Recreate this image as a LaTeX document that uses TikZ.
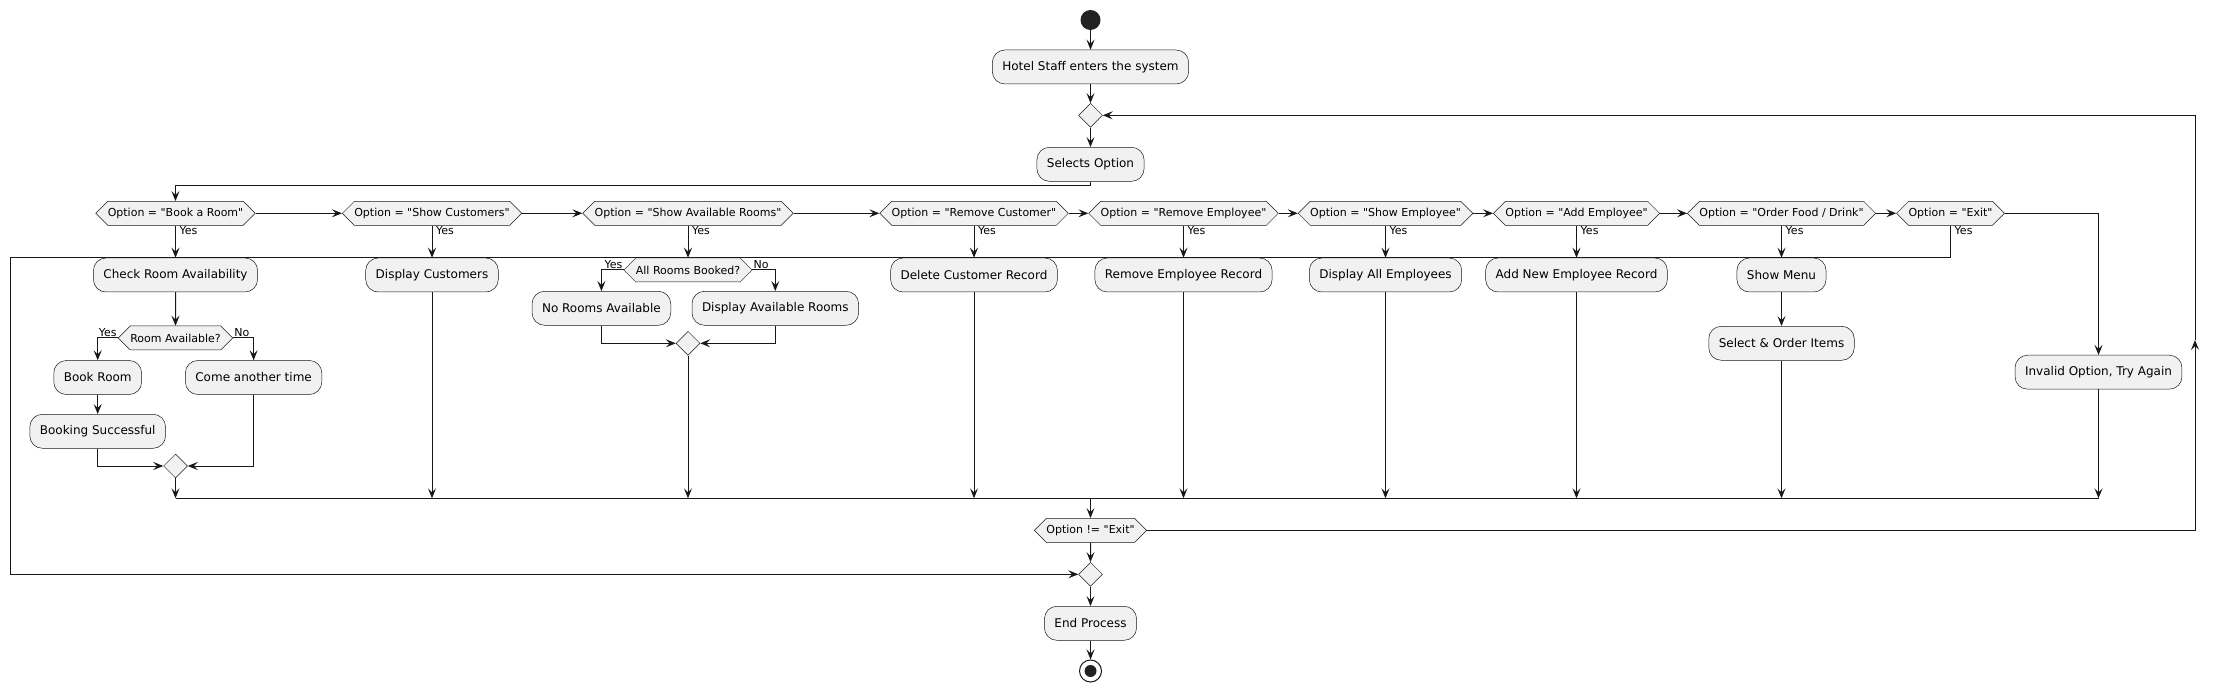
\documentclass[tikz,border=0pt]{standalone}
\usepackage{fontspec}
\setmainfont{DejaVu Sans}[Ligatures=TeXOff]
\usetikzlibrary{arrows.meta, shapes.geometric, shapes.symbols}

\definecolor{boxfill}{HTML}{F1F1F1}
\definecolor{lineclr}{HTML}{181818}
\definecolor{startclr}{HTML}{222222}

\begin{document}
\begin{tikzpicture}[x=1pt, y=-1pt,
		action/.style={draw=lineclr, fill=boxfill, line width=0.5pt, rounded corners=12.5pt, minimum height=34pt, inner xsep=10pt, inner ysep=0pt, font=\fontsize{12}{14}\selectfont},
		cond/.style={draw=lineclr, fill=boxfill, line width=0.5pt, signal, signal to=east and west, signal pointer angle=90, minimum height=24pt, inner xsep=0pt, inner ysep=0pt, font=\fontsize{11}{13}\selectfont},
		merge/.style={draw=lineclr, fill=boxfill, line width=0.5pt, diamond, minimum size=24pt, inner sep=0pt},
		flow/.style={draw=lineclr, line width=1pt, -{Stealth[length=10pt, width=8pt, inset=4pt]}},
		line/.style={draw=lineclr, line width=1pt},
		lbl/.style={font=\fontsize{11}{13}\selectfont, inner sep=1pt}]
		\path[use as bounding box, fill=white] (0,0) rectangle (2220,692);
		\node[circle, fill=startclr, minimum size=20pt, inner sep=0pt] (start) at (1090.5,20) {};
		\node[action] (hotel) at (1090.5,67) {Hotel Staff enters the system};
		\node[merge] (loopm) at (1090.5,115.3) {};
		\node[action] (select) at (1090.5,164.3) {Selects Option};
		\node[cond] (optbook) at (175.5,213.3) {Option = "Book a Room"};
		\node[cond] (optcust) at (432,213.3) {Option = "Show Customers"};
		\node[cond] (optavail) at (688,213.3) {Option = "Show Available Rooms"};
		\node[cond] (optremc) at (974,213.3) {Option = "Remove Customer"};
		\node[cond] (optreme) at (1183.5,213.3) {Option = "Remove Employee"};
		\node[cond] (optshowe) at (1385.5,213.3) {Option = "Show Employee"};
		\node[cond] (optadde) at (1576.5,213.3) {Option = "Add Employee"};
		\node[cond] (optfood) at (1781.5,213.3) {Option = "Order Food / Drink"};
		\node[cond] (optexit) at (1950.5,213.3) {Option = "Exit"};
		\node[action] (checkroom) at (175.5,275) {Check Room Availability};
		\node[cond] (roomq) at (175.5,338) {Room Available?};
		\node[action] (bookroom) at (97.7,377.5) {Book Room};
		\node[action] (another) at (253.6,377.5) {Come another time};
		\node[action] (booksucc) at (97.7,431.3) {Booking Successful};
		\node[merge] (mroom) at (175.5,466) {};
		\node[action] (dispcust) at (432,275) {Display Customers};
		\node[cond] (allq) at (688,270) {All Rooms Booked?};
		\node[action] (norooms) at (601.4,308.3) {No Rooms Available};
		\node[action] (dispavail) at (775.3,308.3) {Display Available Rooms};
		\node[merge] (mavail) at (688,343.3) {};
		\node[action] (delcust) at (974,275) {Delete Customer Record};
		\node[action] (remrec) at (1183.5,275) {Remove Employee Record};
		\node[action] (dispemp) at (1385.5,275) {Display All Employees};
		\node[action] (addrec) at (1576.5,275) {Add New Employee Record};
		\node[action] (showmenu) at (1781.5,275) {Show Menu};
		\node[action] (orderitems) at (1781.5,343.3) {Select \& Order Items};
		\node[action] (invalid) at (2098.5,372.2) {Invalid Option, Try Again};
		\node[cond] (optne) at (1090.5,530.3) {Option != "Exit"};
		\node[merge] (mend) at (1090.5,574.3) {};
		\node[action] (endproc) at (1090.5,623.3) {End Process};
		\node[circle, draw=lineclr, line width=1pt, fill=white, minimum size=22pt, inner sep=0pt] (stop) at (1090.5,671) {};
		\node[circle, fill=startclr, minimum size=12pt, inner sep=0pt] (stopdot) at (stop) {};
		% yes / no labels
		\foreach \o in {optbook, optcust, optavail, optremc, optreme, optshowe, optadde, optfood, optexit}
			\node[lbl, anchor=north west] (\o-yes) at ([xshift=3pt]\o.south) {Yes};
		\node[lbl, anchor=south east] (roomq-yes) at (roomq.west) {Yes};
		\node[lbl, anchor=south west] (roomq-no) at (roomq.east) {No};
		\node[lbl, anchor=south east] (allq-yes) at (allq.west) {Yes};
		\node[lbl, anchor=south west] (allq-no) at (allq.east) {No};
		% helper points
		\coordinate (sel1) at (175.5,186);
		\coordinate (ex2) at (10.4,257.3);
		\coordinate (jmid) at (1090.5,498.3);
		\coordinate (back1) at (2195,530.3);
		\coordinate (backmid) at (2195,340);
		\coordinate (back2) at (2195,115.3);
		\foreach \b in {mroom, dispcust, mavail, delcust, remrec, dispemp, addrec, orderitems, invalid}
			\coordinate (\b-j) at (\b.south |- jmid);
		% connectors
		\draw[flow] (start) -- (hotel);
		\draw[flow] (hotel) -- (loopm);
		\draw[flow] (loopm) -- (select);
		\draw[flow] (select.south) |- (sel1) -- (optbook.north);
		\draw[flow] (optbook.east) -- (optcust.west);
		\draw[flow] (optcust.east) -- (optavail.west);
		\draw[flow] (optavail.east) -- (optremc.west);
		\draw[flow] (optremc.east) -- (optreme.west);
		\draw[flow] (optreme.east) -- (optshowe.west);
		\draw[flow] (optshowe.east) -- (optadde.west);
		\draw[flow] (optadde.east) -- (optfood.west);
		\draw[flow] (optfood.east) -- (optexit.west);
		\draw[flow] (optbook.south) -- (checkroom.north);
		\draw[flow] (optcust.south) -- (dispcust.north);
		\draw[flow] (optavail.south) -- (allq.north);
		\draw[flow] (optremc.south) -- (delcust.north);
		\draw[flow] (optreme.south) -- (remrec.north);
		\draw[flow] (optshowe.south) -- (dispemp.north);
		\draw[flow] (optadde.south) -- (addrec.north);
		\draw[flow] (optfood.south) -- (showmenu.north);
		\draw[flow] (optexit.south) |- (ex2) |- (mend.west);
		\draw[flow] (optexit.east) -| (invalid.north);
		\draw[flow] (checkroom) -- (roomq);
		\draw[flow] (roomq.west) -| (bookroom.north);
		\draw[flow] (roomq.east) -| (another.north);
		\draw[flow] (bookroom) -- (booksucc);
		\draw[flow] (booksucc.south) |- (mroom.west);
		\draw[flow] (another.south) |- (mroom.east);
		\draw[flow] (allq.west) -| (norooms.north);
		\draw[flow] (allq.east) -| (dispavail.north);
		\draw[flow] (norooms.south) |- (mavail.west);
		\draw[flow] (dispavail.south) |- (mavail.east);
		\draw[flow] (showmenu) -- (orderitems);
		\foreach \b in {mroom, dispcust, mavail, delcust, remrec, dispemp, addrec, orderitems, invalid}
			\draw[flow] (\b.south) -- (\b-j);
		\draw[line] (mroom-j) -- (invalid-j);
		\draw[flow] (jmid) -- (optne.north);
		\draw[flow] (optne) -- (mend);
		\draw[flow] (mend) -- (endproc);
		\draw[flow] (endproc) -- (stop);
		\draw[flow] (optne.east) -- (back1) -- (backmid);
		\draw[flow] (backmid) -- (back2) -- (loopm.east);
	\end{tikzpicture}
\end{document}
